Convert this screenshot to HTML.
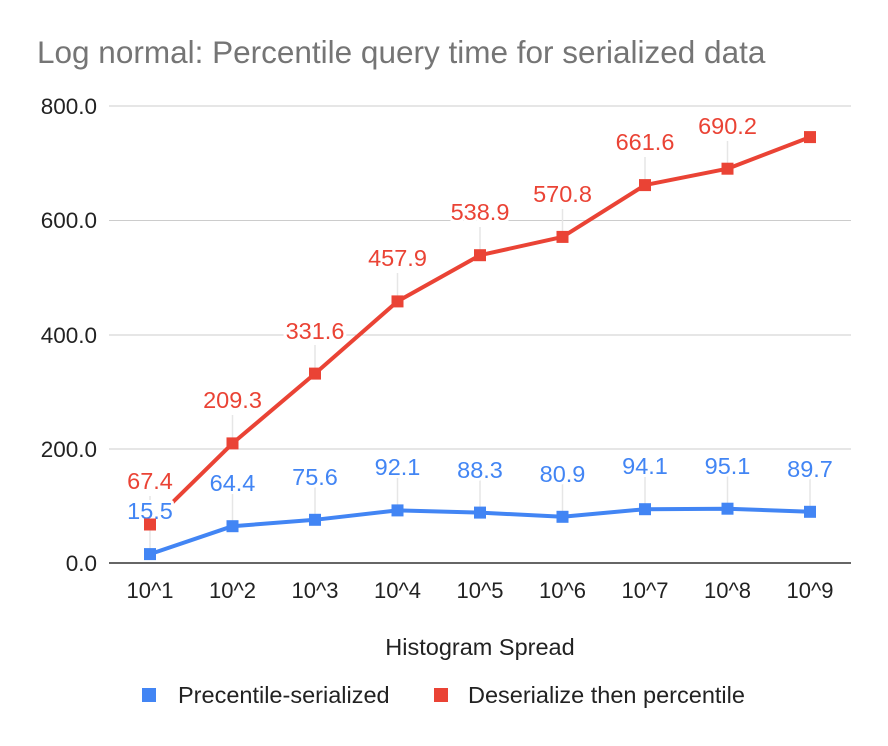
<!DOCTYPE html>
<html><head><meta charset="utf-8"><style>body{margin:0;background:#fff}svg{display:block;font-family:"Liberation Sans",Arial,sans-serif}</style></head><body>
<svg width="888" height="746" viewBox="0 0 888 746">
<rect width="888" height="746" fill="#fff"/>
<text x="37" y="63" font-size="31.5" fill="#757575">Log normal: Percentile query time for serialized data</text>
<g stroke="#ccc" stroke-width="1">
<line x1="109" y1="106" x2="851" y2="106"/><line x1="109" y1="220.5" x2="851" y2="220.5"/><line x1="109" y1="335" x2="851" y2="335"/><line x1="109" y1="449" x2="851" y2="449"/>
</g>
<g font-size="22.5" fill="#222" text-anchor="end">
<text x="97" y="114">800.0</text><text x="97" y="228">600.0</text><text x="97" y="343">400.0</text><text x="97" y="457">200.0</text><text x="97" y="571">0.0</text>
</g>
<g stroke="#e6e6e6" stroke-width="1.5">
<line x1="150" y1="496" x2="150" y2="554"/><line x1="232.5" y1="490" x2="232.5" y2="526"/><line x1="315" y1="484" x2="315" y2="520"/><line x1="397.5" y1="475" x2="397.5" y2="510"/><line x1="480" y1="477" x2="480" y2="513"/><line x1="562.5" y1="481" x2="562.5" y2="517"/><line x1="645" y1="474" x2="645" y2="509"/><line x1="727.5" y1="473" x2="727.5" y2="509"/><line x1="810" y1="476" x2="810" y2="512"/>
<line x1="232.5" y1="415" x2="232.5" y2="443"/><line x1="315" y1="345" x2="315" y2="374"/><line x1="397.5" y1="273" x2="397.5" y2="301"/><line x1="480" y1="227" x2="480" y2="255"/><line x1="562.5" y1="209" x2="562.5" y2="237"/><line x1="645" y1="157" x2="645" y2="185"/><line x1="727.5" y1="141" x2="727.5" y2="169"/>
</g>
<line x1="109" y1="563" x2="851" y2="563" stroke="#333" stroke-width="1.5"/>
<polyline fill="none" stroke="#ea4335" stroke-width="4" stroke-linejoin="round" points="150,524.5 232.5,443.4 315,373.6 397.5,301.4 480,255.2 562.5,236.9 645,185.1 727.5,168.7 810,137.1"/>
<polyline fill="none" stroke="#4285f4" stroke-width="4" stroke-linejoin="round" points="150,554.1 232.5,526.2 315,519.8 397.5,510.4 480,512.6 562.5,516.8 645,509.2 727.5,508.7 810,511.8"/>
<g font-size="23.5" text-anchor="middle" stroke="#fff" stroke-width="6" paint-order="stroke" stroke-linejoin="round">
<g fill="#ea4335">
<text x="150" y="489">67.4</text><text x="232.5" y="408">209.3</text><text x="315" y="339">331.6</text><text x="397.5" y="266">457.9</text><text x="480" y="220">538.9</text><text x="562.5" y="202">570.8</text><text x="645" y="150">661.6</text><text x="727.5" y="134">690.2</text>
</g>
<g fill="#4285f4">
<text x="150" y="519">15.5</text><text x="232.5" y="491">64.4</text><text x="315" y="485">75.6</text><text x="397.5" y="475">92.1</text><text x="480" y="478">88.3</text><text x="562.5" y="482">80.9</text><text x="645" y="474">94.1</text><text x="727.5" y="474">95.1</text><text x="810" y="477">89.7</text>
</g>
</g>
<g fill="#ea4335">
<rect x="144" y="518.5" width="12" height="12"/><rect x="226.5" y="437.4" width="12" height="12"/><rect x="309" y="367.6" width="12" height="12"/><rect x="391.5" y="295.4" width="12" height="12"/><rect x="474" y="249.2" width="12" height="12"/><rect x="556.5" y="230.9" width="12" height="12"/><rect x="639" y="179.1" width="12" height="12"/><rect x="721.5" y="162.7" width="12" height="12"/><rect x="804" y="131.1" width="12" height="12"/>
</g>
<g fill="#4285f4">
<rect x="144" y="548.1" width="12" height="12"/><rect x="226.5" y="520.2" width="12" height="12"/><rect x="309" y="513.8" width="12" height="12"/><rect x="391.5" y="504.4" width="12" height="12"/><rect x="474" y="506.6" width="12" height="12"/><rect x="556.5" y="510.8" width="12" height="12"/><rect x="639" y="503.2" width="12" height="12"/><rect x="721.5" y="502.7" width="12" height="12"/><rect x="804" y="505.8" width="12" height="12"/>
</g>
<g font-size="22" fill="#222" text-anchor="middle">
<text x="150" y="598">10^1</text><text x="232.5" y="598">10^2</text><text x="315" y="598">10^3</text><text x="397.5" y="598">10^4</text><text x="480" y="598">10^5</text><text x="562.5" y="598">10^6</text><text x="645" y="598">10^7</text><text x="727.5" y="598">10^8</text><text x="810" y="598">10^9</text>
</g>
<text x="480" y="655" font-size="23.5" fill="#222" text-anchor="middle">Histogram Spread</text>
<rect x="142" y="688" width="14" height="14" fill="#4285f4"/>
<text x="178" y="703" font-size="23.5" fill="#222">Precentile-serialized</text>
<rect x="434" y="688" width="14" height="14" fill="#ea4335"/>
<text x="468" y="703" font-size="23.5" fill="#222">Deserialize then percentile</text>
</svg>
</body></html>
